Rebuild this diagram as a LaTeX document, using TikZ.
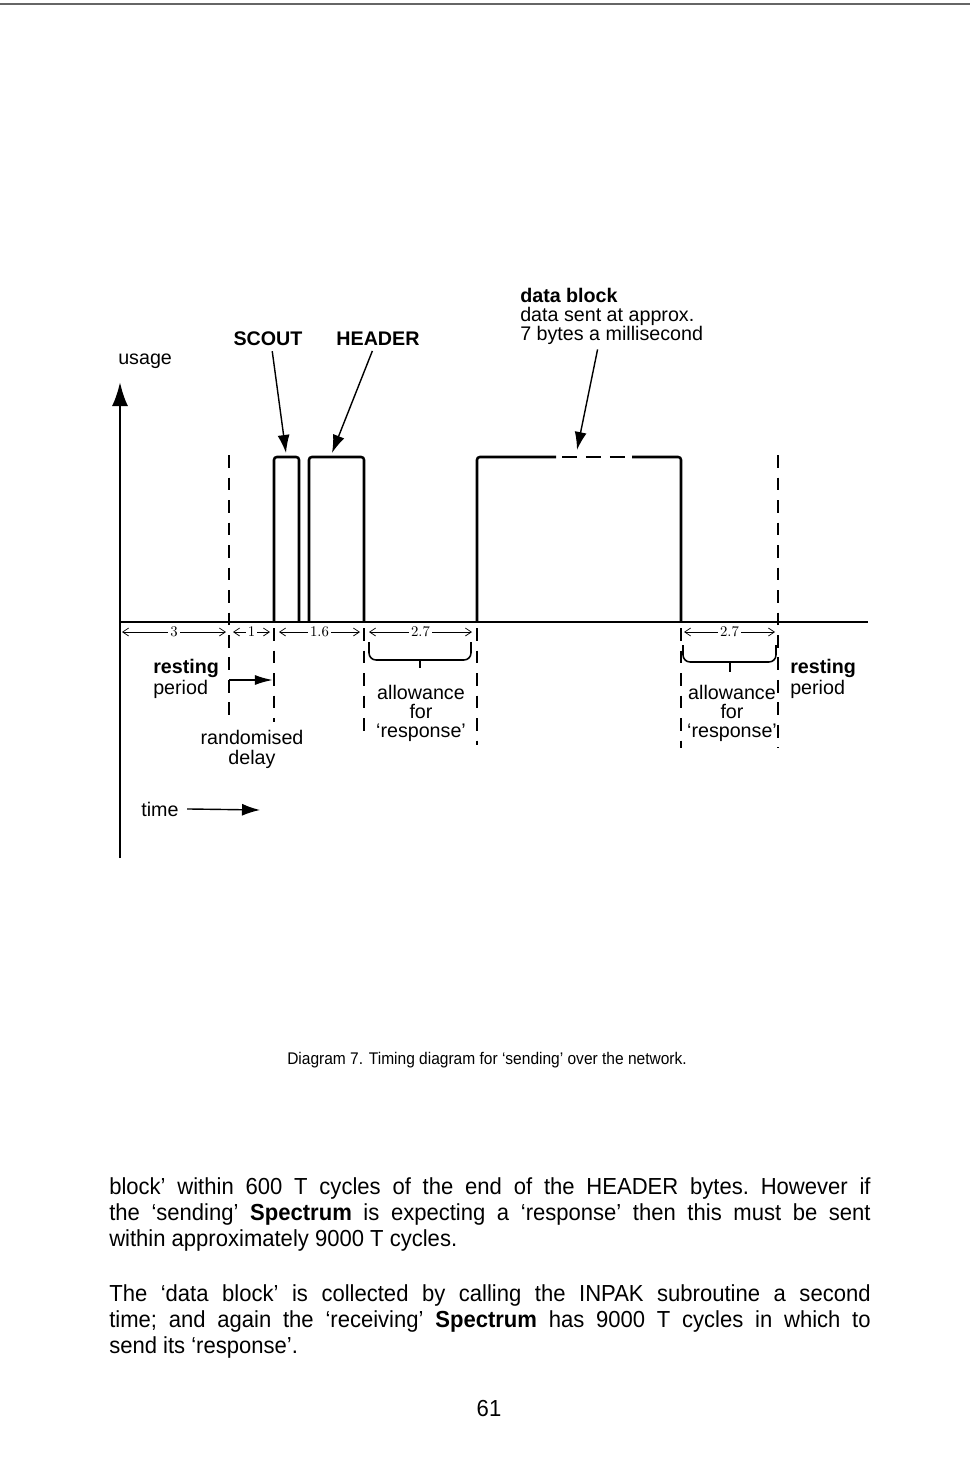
\documentclass[tikz,border=0pt]{standalone}
\usepackage{fontspec}
\setsansfont{Liberation Sans}
\newfontfamily\bodyfont[FakeStretch=0.95]{Liberation Sans}
\newfontfamily\capfont[FakeStretch=0.92]{Liberation Sans}
\usetikzlibrary{arrows.meta}

\begin{document}
\begin{tikzpicture}[
    x=0.025cm, y=-0.025cm,
    lbl/.style={
      inner sep=0pt,
      align=center,
      font=\sffamily\fontsize{14}{13.6}\selectfont
    },
    boldlbl/.style={
      lbl,
      font=\sffamily\bfseries\fontsize{14}{13.6}\selectfont
    },
    dimlbl/.style={
      fill=white,
      inner sep=1.5pt,
      font=\rmfamily\fontsize{10.5}{10.5}\selectfont
    },
    bodyline/.style={
      inner sep=0pt,
      anchor=base west,
      font=\bodyfont\fontsize{16.5}{16.5}\selectfont\frenchspacing
    },
    signal/.style={line width=1.8pt, rounded corners=2pt},
    guide/.style={line width=1.6pt, dash pattern=on 9pt off 7pt},
    dim/.style={
      {Straight Barb[length=1.5mm,width=2mm]}-{Straight Barb[length=1.5mm,width=2mm]},
      line width=0.5pt
    },
    brace/.style={line width=1.1pt, rounded corners=5pt},
    ptr/.style={
      -{Latex[length=4.5mm,width=3mm]},
      line width=1pt
    }
  ]

  \useasboundingbox (0,0) rectangle (970,1478);
  \draw[line width=0.8pt, black!60] (0,4) -- (970,4);

  \coordinate (t0) at (120,622);
  \coordinate (t1) at (229,622);
  \coordinate (t2) at (274,622);
  \coordinate (t3) at (364,622);
  \coordinate (t4) at (477,622);
  \coordinate (t5) at (681,622);
  \coordinate (t6) at (778,622);
  \coordinate (tend) at (868,622);
  \coordinate (ybot) at (120,858);
  \coordinate (ytop) at (120,382);

  \draw[line width=1.8pt, -{Latex[length=6mm,width=4mm]}] (ybot) -- (ytop);
  \draw[signal] (t0) -- (tend);

  \draw[signal] (t2) |- (299,457) -- (299,622);
  \draw[signal] (309,622) |- (364,457) -- (t3);
  \draw[signal] (t4) |- (556,457);
  \draw[signal, dash pattern=on 11pt off 6pt] (562,457) -- (626,457);
  \draw[signal] (632,457) -| (t5);

  \draw[guide] (229,455) -- (229,722);
  \draw[guide] (778,455) -- (778,748);
  \foreach \x/\e in {274/722, 364/735, 477/745, 681/748}
    \draw[guide] (\x,628) -- (\x,\e);

  \foreach \a/\b/\v in {122/226/3, 233/270/1, 279/360/1.6, 369/472/2.7, 684/775/2.7}
    \draw[dim] (\a,632) -- node[dimlbl] {\v} (\b,632);

  \draw[brace] (369,642) -- (369,660) -- (471,660) -- (471,642);
  \draw[line width=1.1pt] (420,660) -- (420,668);
  \draw[brace] (683,645) -- (683,662) -- (776,662) -- (776,645);
  \draw[line width=1.1pt] (730,662) -- (730,672);

  \draw[line width=1.4pt, -{Latex[length=4.5mm,width=2.5mm]}] (229,680) -- (273,680);

  \node[lbl, anchor=base west] (usage) at (118,364) {usage};
  \node[boldlbl, anchor=base] (scout) at (268,345) {SCOUT};
  \node[boldlbl, anchor=base] (header) at (378,345) {HEADER};
  \node[lbl, align=left, anchor=north west] (datablock) at (520,288)
    {\textbf{data block}\\data sent at approx.\\7 bytes a millisecond};

  \coordinate (scouttip) at (286,453);
  \coordinate (headertip) at (332,453);
  \coordinate (datatip) at (577,450);
  \draw[ptr] ([xshift=3pt,yshift=-4pt]scout.south) -- (scouttip);
  \draw[ptr] ([xshift=-4pt,yshift=-4pt]header.south) -- (headertip);
  \draw[ptr] ([xshift=-10pt,yshift=-3pt]datablock.south) -- (datatip);

  \node[lbl, align=left, anchor=north west, font=\sffamily\fontsize{14}{15}\selectfont] (restleft) at (153,659)
    {\textbf{resting}\\period};
  \node[lbl, anchor=north, font=\sffamily\fontsize{14}{14.2}\selectfont] (randdelay) at (252,730) {randomised\\delay};
  \node[lbl, anchor=north] (allowleft) at (421,685) {allowance\\for\\‘response’};
  \node[lbl, anchor=north] (allowright) at (732,685) {allowance\\for\\‘response’};
  \node[lbl, align=left, anchor=north west, font=\sffamily\fontsize{14}{15}\selectfont] (restright) at (790,659)
    {\textbf{resting}\\period};

  \node[lbl, anchor=base west] (time) at (141,816) {time};
  \coordinate (timetip) at (260,810);
  \draw[ptr] ([xshift=6pt]time.east) -- (timetip);

  \node[inner sep=0pt, font=\capfont\fontsize{12}{12}\selectfont] (caption) at (487,1060)
    {Diagram 7. Timing diagram for ‘sending’ over the network.};

  \node[bodyline] (para1a) at (109,1194)
    {\makebox[19.03cm][s]{block’ within 600 T cycles of the end of the HEADER bytes. However if}};
  \node[bodyline] (para1b) at (109,1220)
    {\makebox[19.03cm][s]{the ‘sending’ \textbf{Spectrum} is expecting a ‘response’ then this must be sent}};
  \node[bodyline] (para1c) at (109,1246) {within approximately 9000 T cycles.};
  \node[bodyline] (para2a) at (109,1301)
    {\makebox[19.03cm][s]{The ‘data block’ is collected by calling the INPAK subroutine a second}};
  \node[bodyline] (para2b) at (109,1327)
    {\makebox[19.03cm][s]{time; and again the ‘receiving’ \textbf{Spectrum} has 9000 T cycles in which to}};
  \node[bodyline] (para2c) at (109,1353) {send its ‘response’.};
  \node[bodyline, anchor=base] (pagenum) at (489,1416) {61};

\end{tikzpicture}
\end{document}
